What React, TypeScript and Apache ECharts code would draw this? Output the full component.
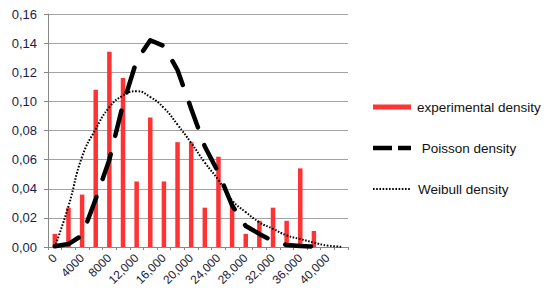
import React, { useEffect, useRef } from "react";
import * as echarts from "echarts";

const categories = [
  "0", "2000", "4000", "6000", "8000", "10,000", "12,000", "14,000", "16,000", "18,000", "20,000",
  "22,000", "24,000", "26,000", "28,000", "30,000", "32,000", "34,000", "36,000", "38,000", "40,000", "42,000",
];

const experimental = [
  0.009, 0.027, 0.036, 0.108, 0.134, 0.116, 0.045, 0.089, 0.045, 0.072, 0.072,
  0.027, 0.062, 0.029, 0.009, 0.018, 0.027, 0.018, 0.054, 0.011, null, null,
];

const poisson = [
  0.0005, 0.002, 0.008, 0.033, 0.06, 0.098, 0.128, 0.142, 0.138, 0.1215, 0.095,
  0.069, 0.051, 0.0285, 0.0144, 0.009, 0.004, 0.0014, 0.0007, 0.0003, 0.0002, null,
];

const weibull = [
  0, 0.028, 0.062, 0.081, 0.096, 0.104, 0.107, 0.103, 0.0955, 0.084, 0.0715,
  0.058, 0.046, 0.032, 0.024, 0.017, 0.0125, 0.008, 0.0055, 0.003, 0.001, 0.0002,
];

const legendNames = ["experimental density", " Poisson density", "Weibull density"];

export default function App() {
  const ref = useRef<HTMLDivElement>(null);

  useEffect(() => {
    if (!ref.current) return;
    const chart = echarts.init(ref.current, null, { renderer: "svg" });
    const labelFont = "'Liberation Sans', Arial, sans-serif";
    chart.setOption({
      animation: false,
      backgroundColor: "#ffffff",
      grid: { left: 48, right: 202, top: 14, bottom: 56, containLabel: false },
      xAxis: {
        type: "category",
        data: categories,
        boundaryGap: true,
        axisLine: { show: true, lineStyle: { color: "#888888", width: 1 } },
        axisTick: { show: true, interval: 0, length: 3, lineStyle: { color: "#888888" } },
        axisLabel: {
          interval: 1,
          rotate: 45,
          margin: 9,
          fontSize: 12,
          fontFamily: labelFont,
          color: "#222233",
        },
        splitLine: { show: false },
      },
      yAxis: {
        type: "value",
        min: 0,
        max: 0.16,
        interval: 0.02,
        axisLine: { show: true, lineStyle: { color: "#888888", width: 1 } },
        axisTick: { show: true, length: 4, lineStyle: { color: "#888888" } },
        axisLabel: {
          margin: 11,
          fontSize: 13,
          fontFamily: labelFont,
          color: "#1c1c4a",
          formatter: (v: number) => v.toFixed(2).replace(".", ","),
        },
        splitLine: { show: true, lineStyle: { color: "#a3a3a3", width: 1 } },
      },
      series: [
        {
          name: legendNames[0],
          type: "bar",
          data: experimental,
          barWidth: 4.5,
          itemStyle: { color: "#ff3333" },
        },
        {
          name: legendNames[1],
          type: "line",
          data: poisson,
          symbol: "none",
          smooth: false,
          lineStyle: { color: "#000000", width: 4.5, type: [26, 19], cap: "round", join: "round" },
        },
        {
          name: legendNames[2],
          type: "line",
          data: weibull,
          symbol: "none",
          smooth: true,
          lineStyle: { color: "#000000", width: 2, type: [1.6, 1.6] },
        },
      ],
      graphic: [
        { type: "rect", shape: { x: 373, y: 104.5, width: 38, height: 5 }, style: { fill: "#ff3333" } },
        {
          type: "text",
          x: 417,
          y: 107,
          style: { text: legendNames[0], fontSize: 13.5, fontFamily: labelFont, fill: "#111111", verticalAlign: "middle" },
        },
        {
          type: "line",
          shape: { x1: 373, y1: 148, x2: 411, y2: 148 },
          style: { stroke: "#000000", lineWidth: 4.5, lineDash: [19, 6] },
        },
        {
          type: "text",
          x: 418,
          y: 148,
          style: { text: legendNames[1], fontSize: 13.5, fontFamily: labelFont, fill: "#111111", verticalAlign: "middle" },
        },
        {
          type: "line",
          shape: { x1: 373, y1: 189, x2: 411, y2: 189 },
          style: { stroke: "#000000", lineWidth: 2, lineDash: [1.6, 1.6] },
        },
        {
          type: "text",
          x: 418,
          y: 189,
          style: { text: legendNames[2], fontSize: 13.5, fontFamily: labelFont, fill: "#111111", verticalAlign: "middle" },
        },
      ],
    });
    return () => chart.dispose();
  }, []);

  return <div ref={ref} style={{ width: 550, height: 303, position: "absolute", left: 0, top: 0 }} />;
}
